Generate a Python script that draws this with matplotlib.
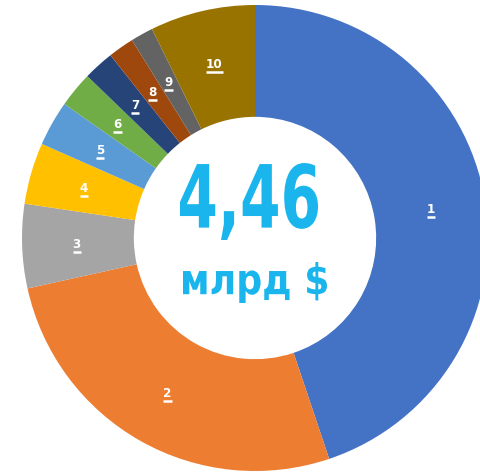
import numpy as np
import matplotlib
matplotlib.use("Agg")
import matplotlib.pyplot as plt
from matplotlib.textpath import TextPath
from matplotlib.patches import PathPatch
from matplotlib.font_manager import FontProperties
from matplotlib.transforms import Affine2D
from matplotlib.lines import Line2D

# Data (billion $)
labels = ["1", "2", "3", "4", "5", "6", "7", "8", "9", "10"]
values = [2.00, 1.19, 0.26, 0.19, 0.14, 0.11, 0.095, 0.08, 0.07, 0.325]
colors = ["#4472C4", "#ED7D31", "#A5A5A5", "#FFC000", "#5B9BD5",
          "#70AD47", "#264478", "#9E480E", "#636363", "#997300"]
total_text = "4,46"
unit_text = "млрд $"

W, H = 481, 475
cx, cy = 255, 238          # pie centre in pixels (from top-left)
R = 233.0                  # outer radius in pixels
inner = 0.52
fig = plt.figure(figsize=(W / 100, H / 100), dpi=100)
ax = fig.add_axes([0, 0, 1, 1])
ax.set_aspect("equal")
ax.axis("off")

wedges, _ = ax.pie(values, colors=colors, startangle=90, counterclock=False,
                   radius=1.0, wedgeprops=dict(width=1 - inner, linewidth=0))
ax.set_xlim(-cx / R, (W - cx) / R)
ax.set_ylim(-(H - cy) / R, cy / R)

def px2d(x, y):
    return (x - cx) / R, (cy - y) / R

# segment labels
rmid = 0.765
texts = []
for w, lab in zip(wedges, labels):
    ang = np.deg2rad((w.theta1 + w.theta2) / 2)
    x, y = rmid * np.cos(ang), rmid * np.sin(ang)
    t = ax.text(x, y, lab, color="white", fontsize=9.5, fontweight="bold",
                ha="center", va="center", family="DejaVu Sans",
                fontstretch="condensed")
    texts.append(t)

fig.canvas.draw()
r = fig.canvas.get_renderer()
for t in texts:
    bb = t.get_window_extent(r)
    yline = bb.y0 - 1.0
    fig.add_artist(Line2D([bb.x0, bb.x1], [yline, yline],
                          transform=None, color="white", lw=1.8,
                          solid_capstyle="butt"))

# centre text via scaled text paths
fp = FontProperties(family="DejaVu Sans", weight="bold")
def place(text, x0, y0, x1, y1, color):
    tp = TextPath((0, 0), text, size=1, prop=fp)
    ext = tp.get_extents()
    a0, b0 = px2d(x0, y1)
    a1, b1 = px2d(x1, y0)
    sx = (a1 - a0) / ext.width
    sy = (b1 - b0) / ext.height
    tr = Affine2D().translate(-ext.x0, -ext.y0).scale(sx, sy).translate(a0, b0)
    p = tr.transform_path(tp)
    ax.add_patch(PathPatch(p, facecolor=color, edgecolor="none"))

place(total_text, 180, 163, 318, 240, "#19B5EC")
place(unit_text, 183, 262, 327, 303, "#19B5EC")

fig.savefig("out.png", dpi=100)
